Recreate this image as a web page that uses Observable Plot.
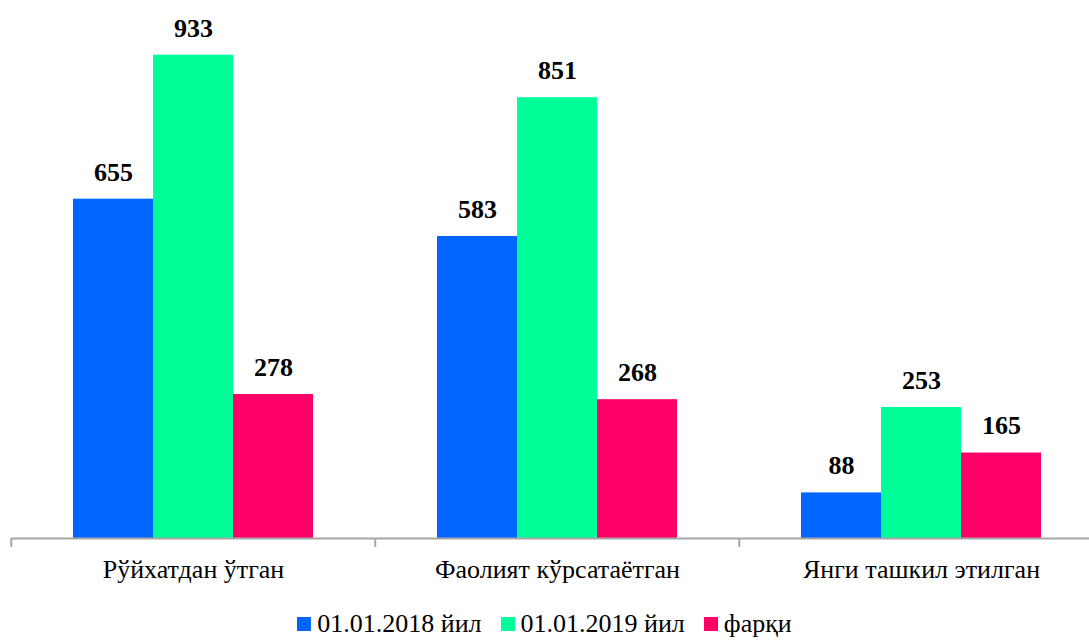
<!DOCTYPE html>
<html>
<head>
<meta charset="utf-8">
<script src="https://cdn.jsdelivr.net/npm/d3@7"></script>
<script src="https://cdn.jsdelivr.net/npm/@observablehq/plot@0.6"></script>
<style>
  html, body { margin: 0; padding: 0; background: #fff; overflow: hidden; }
  #chart { width: 1089px; font-family: "Liberation Serif", "DejaVu Serif", serif; }
  #chart svg, #chart svg text { font-family: "Liberation Serif", "DejaVu Serif", serif !important; }
  div.lg-swatches { justify-content: center !important; margin-top: 7px !important; font-family: "Liberation Serif", "DejaVu Serif", serif !important; font-size: 26px !important; color: #000; }
  div.lg-swatches .lg-swatch { margin-right: 19px !important; }
  div.lg-swatches .lg-swatch:last-child { margin-right: 0 !important; }
  div.lg-swatches .lg-swatch > svg { margin-right: 6px !important; }
</style>
</head>
<body>
<div id="chart"></div>
<script>
const categories = ["Рўйхатдан ўтган", "Фаолият кўрсатаётган", "Янги ташкил этилган"];
const series = ["01.01.2018 йил", "01.01.2019 йил", "фарқи"];
const values2018 = [655, 583, 88];
const values2019 = [933, 851, 253];
const valuesDiff = [278, 268, 165];
const colors = ["#0066FF", "#00FF99", "#FF0066"];

const seriesValues = [values2018, values2019, valuesDiff];
const data = [];
categories.forEach((c, i) => {
  series.forEach((s, j) => {
    data.push({category: c, series: s, value: seriesValues[j][i]});
  });
});

const font = "Liberation Serif, DejaVu Serif, serif";
const W = 1089;
const marginLeft = 10;
const marginRight = -14.5;
const step = (W - marginLeft - marginRight) / categories.length;

const plot = Plot.plot({
  width: W,
  height: 600,
  marginLeft,
  marginRight,
  marginTop: 20,
  marginBottom: 62,
  style: {fontFamily: font, background: "#fff", overflow: "visible"},
  fx: {domain: categories, padding: 0, label: null},
  x: {domain: series, paddingInner: 0, paddingOuter: 0.75, axis: null},
  y: {domain: [0, 1000], axis: null},
  color: {domain: series, range: colors},
  marks: [
    Plot.barY(data, {fx: "category", x: "series", y: "value", fill: "series"}),
    Plot.text(data, {fx: "category", x: "series", y: "value", text: d => String(d.value), dy: -27, fontSize: 26, fontWeight: "bold", fill: "#000"}),
    Plot.ruleY([0], {stroke: "#a6a6a6", strokeWidth: 2}),
    Plot.axisFx({anchor: "bottom", tickSize: 9, tickFormat: () => "", dx: -step / 2, stroke: "#a6a6a6", strokeWidth: 2, label: null}),
    Plot.axisFx({anchor: "bottom", tickSize: 0, tickPadding: 21, fontSize: 26, fill: "#000", label: null})
  ]
});

const legend = Plot.legend({
  color: {domain: series, range: colors},
  legend: "swatches",
  swatchSize: 14,
  className: "lg"
});

const chart = document.getElementById("chart");
chart.appendChild(plot);
chart.appendChild(legend);
</script>
</body>
</html>
